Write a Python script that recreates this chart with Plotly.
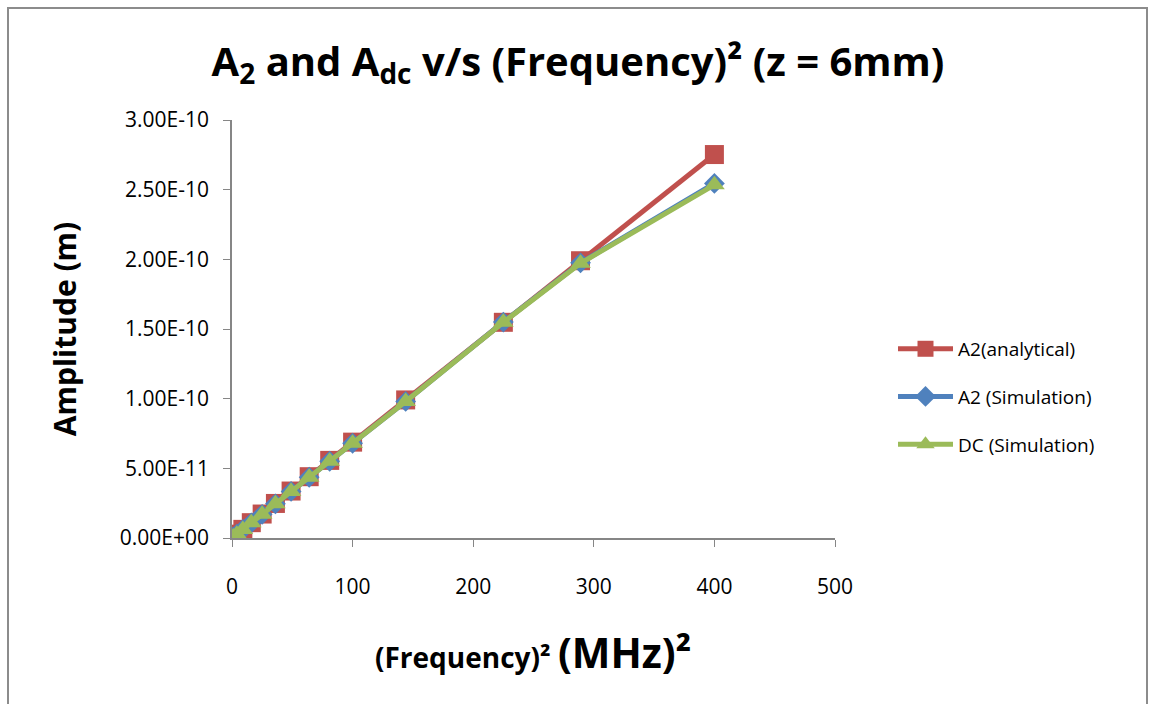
import plotly.graph_objects as go

freq_sq = [0, 1, 4, 9, 16, 25, 36, 49, 64, 81, 100, 144, 225, 289, 400]
a2_analytical = [0.0, 0.0069e-10, 0.0275e-10, 0.062e-10, 0.110e-10, 0.172e-10, 0.248e-10,
                 0.337e-10, 0.440e-10, 0.557e-10, 0.688e-10, 0.991e-10, 1.548e-10,
                 1.990e-10, 2.752e-10]
a2_simulation = [0.0, 0.0068e-10, 0.0272e-10, 0.061e-10, 0.109e-10, 0.170e-10, 0.245e-10,
                 0.334e-10, 0.436e-10, 0.551e-10, 0.680e-10, 0.980e-10, 1.550e-10,
                 1.975e-10, 2.545e-10]
dc_simulation = [0.0, 0.0068e-10, 0.0272e-10, 0.061e-10, 0.109e-10, 0.170e-10, 0.245e-10,
                 0.334e-10, 0.436e-10, 0.551e-10, 0.680e-10, 0.980e-10, 1.548e-10,
                 1.972e-10, 2.535e-10]

y_tickvals = [0, 0.5e-10, 1.0e-10, 1.5e-10, 2.0e-10, 2.5e-10, 3.0e-10]
y_ticktext = ["0.00E+00", "5.00E-11", "1.00E-10", "1.50E-10", "2.00E-10", "2.50E-10", "3.00E-10"]
x_tickvals = [0, 100, 200, 300, 400, 500]

font_family = "Open Sans, Liberation Sans, sans-serif"

series = [
    ("A2(analytical)", a2_analytical, "#C0504D", "square", 19),
    ("A2 (Simulation)", a2_simulation, "#4F81BD", "diamond", 16),
    ("DC (Simulation)", dc_simulation, "#9BBB59", "triangle-up", 18),
]

fig = go.Figure()
for name, values, color, symbol, size in series:
    fig.add_trace(
        go.Scatter(
            x=freq_sq,
            y=values,
            name=name,
            legendgroup=name,
            mode="lines+markers",
            line=dict(color=color, width=5),
            marker=dict(color=color, symbol=symbol, size=size),
        )
    )

axis_common = dict(
    showgrid=False,
    zeroline=False,
    showline=True,
    linecolor="#868686",
    linewidth=1.5,
    ticks="outside",
    ticklen=7,
    tickcolor="#868686",
    tickfont=dict(family=font_family, size=21, color="#000000"),
)

W, H = 1149, 704
L, R, T, B = 232, 835, 120, 538

fig.update_layout(
    width=W,
    height=H,
    paper_bgcolor="white",
    plot_bgcolor="white",
    margin=dict(l=L, r=W - R, t=T, b=H - B),
    title=dict(
        text="A<sub>2</sub> and A<sub>dc</sub> v/s (Frequency)² (z = 6mm)",
        x=578 / W,
        xanchor="center",
        y=1 - 62 / H,
        yanchor="middle",
        font=dict(family=font_family, size=40, color="#000000", weight="bold"),
    ),
    xaxis=dict(
        range=[0, 500],
        tickvals=x_tickvals,
        ticklabelstandoff=22,
        **axis_common,
    ),
    yaxis=dict(
        range=[0, 3.0e-10],
        tickvals=y_tickvals,
        ticktext=y_ticktext,
        ticklabelstandoff=10,
        title=dict(
            text="<b>Amplitude (m)</b>",
            font=dict(family=font_family, size=30, color="#000000"),
            standoff=34,
        ),
        **axis_common,
    ),
    legend=dict(
        x=(893 - L) / (R - L),
        xanchor="left",
        y=(B - 355) / (B - T) + 0.06,
        yanchor="top",
        font=dict(family=font_family, size=19, color="#000000"),
        tracegroupgap=20,
        itemwidth=55,
        bgcolor="rgba(0,0,0,0)",
    ),
    showlegend=True,
)

fig.add_annotation(
    text="<b>(Frequency)² <span style='font-size:41px'>(MHz)²</span></b>",
    xref="paper",
    yref="paper",
    x=(533 - L) / (R - L),
    y=(B - 652) / (B - T),
    xanchor="center",
    yanchor="middle",
    showarrow=False,
    font=dict(family=font_family, size=28, color="#000000"),
)

fig.add_shape(
    type="rect",
    xref="paper",
    yref="paper",
    x0=(8 - L) / (R - L),
    x1=(1147 - L) / (R - L),
    y0=(B - 720) / (B - T),
    y1=(B - 8) / (B - T),
    line=dict(color="#8C8C8C", width=2),
    layer="below",
)

fig.write_html(
    "out.html",
    config={"displayModeBar": False},
    post_script="document.body.style.margin='0';",
)
